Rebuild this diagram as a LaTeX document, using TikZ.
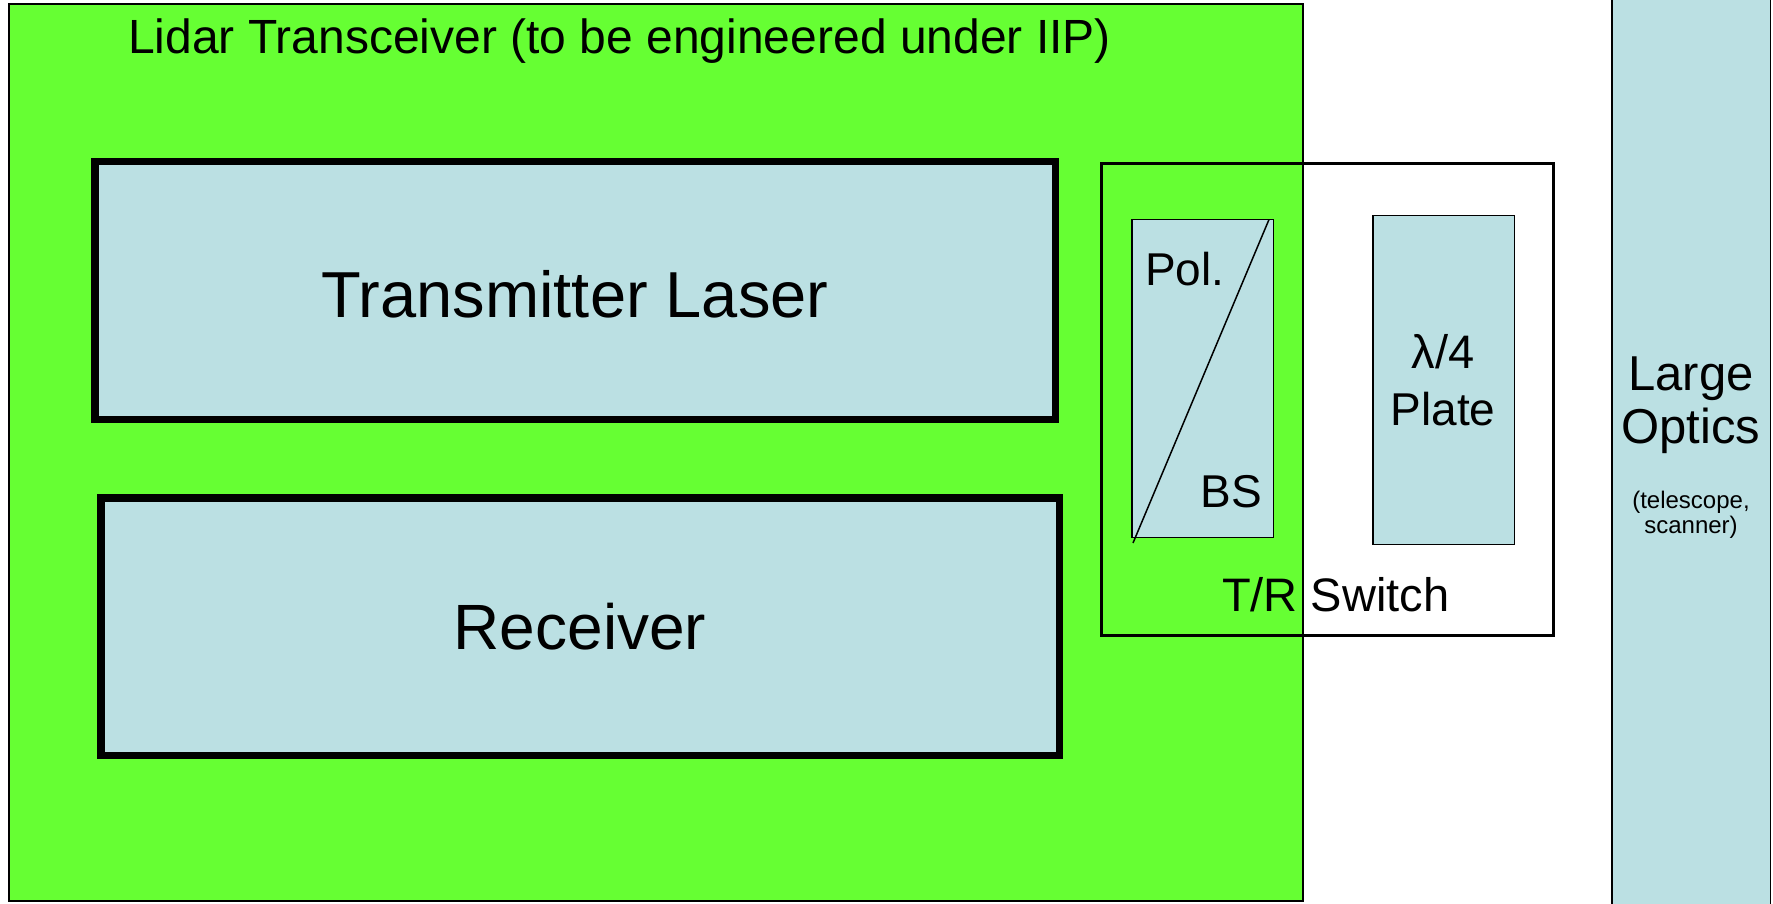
\documentclass[tikz,border=0pt]{standalone}
\usepackage{fontspec}
\setmainfont{Liberation Sans}
\definecolor{bench}{HTML}{66FF33}
\definecolor{optic}{HTML}{BBE0E3}
\tikzset{
  unit/.style={draw=black, fill=optic, inner sep=0pt},
  bigunit/.style={unit, line width=7.5pt},
  element/.style={unit, line width=1.5pt},
  lbl/.style={inner sep=0pt, text=black},
}
\newcommand{\fs}[1]{\fontsize{#1pt}{#1pt}\selectfont}
\begin{document}
\begin{tikzpicture}[x=1pt, y=-1pt]
\useasboundingbox (0,0) rectangle (1773,904);
\fill[white] (0,0) rectangle (1773,904);

% transceiver bench
\node[draw=black, fill=bench, line width=1.2pt, inner sep=0pt,
      minimum width=1294pt, minimum height=897pt] (bench) at (656,452.5) {};
\node[lbl, anchor=base west, font=\fs{48}] (title) at (128,54)
  {Lidar Transceiver (to be engineered under IIP)};

% laser and receiver
\node[bigunit, minimum width=960.5pt, minimum height=257.5pt] (tx) at (575,290.5) {};
\node[lbl, font=\fs{65}] at (tx.center) [yshift=-4pt] {Transmitter Laser};
\node[bigunit, minimum width=958.5pt, minimum height=257.5pt] (rx) at (580,626.5) {};
\node[lbl, font=\fs{64}] at (rx.center) {Receiver};

% large optics
\node[element, minimum width=158.5pt, minimum height=940pt] (optics) at (1691,452) {};
\node[lbl, anchor=base, font=\fs{49}] (large) at (1691,390) {Large};
\node[lbl, anchor=base, font=\fs{49}] (opt) at (1691,443) {Optics};
\node[lbl, anchor=base, font=\fs{24}] (tel) at (1691,508) {(telescope,};
\node[lbl, anchor=base, font=\fs{24}] (scan) at (1691,533) {scanner)};

% T/R switch
\node[draw=black, line width=2.7pt, inner sep=0pt,
      minimum width=452pt, minimum height=472pt] (trsw) at (1327.5,399.5) {};
\node[lbl, anchor=base west, font=\fs{47}] (trlbl) at (1222,611) {T/R Switch};

% polarising beam splitter
\node[element, minimum width=141.5pt, minimum height=317.5pt] (pbs) at (1202.5,378.5) {};
\coordinate (pbsA) at (1133,543);
\coordinate (pbsB) at (1269,219.5);
\draw[line width=1.5pt] (pbsA) -- (pbsB);
\node[lbl, anchor=base west, font=\fs{46}] (pol) at (1145,285) {Pol.};
\node[lbl, anchor=base east, font=\fs{46}] (bs) at (1262,507) {BS};

% quarter-wave plate
\node[element, minimum width=141.5pt, minimum height=328.5pt] (qwp) at (1443.5,380) {};
\node[lbl, anchor=base, font=\fs{47}] (lam) at (1443,368) {λ/4};
\node[lbl, anchor=base, font=\fs{46}] (plate) at (1443,425) {Plate};
\end{tikzpicture}
\end{document}
